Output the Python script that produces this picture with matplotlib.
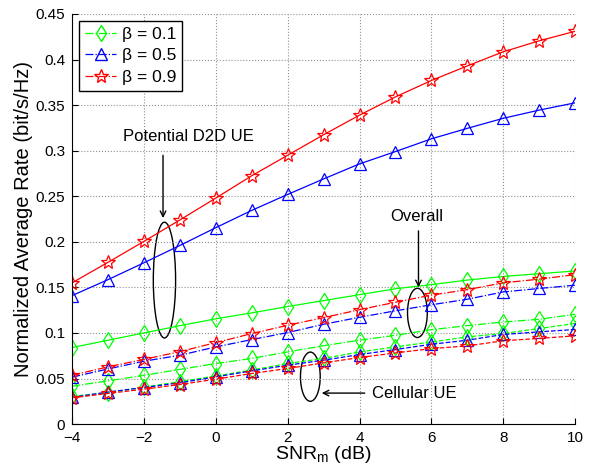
import numpy as np
import matplotlib
matplotlib.use('Agg')
import matplotlib.pyplot as plt
from matplotlib.patches import Ellipse
from matplotlib.lines import Line2D

plt.rcParams['font.family'] = ['Liberation Sans', 'DejaVu Sans']

# SNR_m axis (dB)
snr = np.arange(-4, 11)

# potential D2D UE (solid)
d2d_b01 = [0.084, 0.092, 0.100, 0.108, 0.1155, 0.122, 0.129, 0.1355, 0.142, 0.1485, 0.153, 0.158, 0.162, 0.165, 0.168]
d2d_b05 = [0.141, 0.1585, 0.177, 0.196, 0.2155, 0.2345, 0.252, 0.269, 0.2855, 0.299, 0.313, 0.3245, 0.3355, 0.3445, 0.3525]
d2d_b09 = [0.155, 0.1775, 0.2005, 0.224, 0.248, 0.2725, 0.295, 0.3175, 0.339, 0.359, 0.377, 0.393, 0.4085, 0.4205, 0.431]

# overall (dash-dot)
all_b01 = [0.0416, 0.0474, 0.0535, 0.060, 0.0664, 0.072, 0.0792, 0.086, 0.092, 0.0974, 0.1036, 0.108, 0.112, 0.115, 0.1205]
all_b05 = [0.0515, 0.0605, 0.069, 0.0755, 0.0847, 0.0927, 0.1004, 0.1095, 0.1172, 0.1243, 0.1309, 0.137, 0.145, 0.1488, 0.1524]
all_b09 = [0.0536, 0.0628, 0.071, 0.0795, 0.0894, 0.0993, 0.1084, 0.1168, 0.1255, 0.1337, 0.1415, 0.1475, 0.155, 0.159, 0.164]

# cellular UE (dashed)
cell_b01 = [0.0305, 0.0345, 0.0405, 0.0465, 0.0528, 0.0592, 0.0665, 0.072, 0.0792, 0.0847, 0.0901, 0.0957, 0.0994, 0.1049, 0.1104]
cell_b05 = [0.0292, 0.0352, 0.0401, 0.0453, 0.0518, 0.0584, 0.0646, 0.0701, 0.0763, 0.0818, 0.0876, 0.092, 0.0983, 0.1012, 0.1038]
cell_b09 = [0.0288, 0.0336, 0.0383, 0.0434, 0.0493, 0.0555, 0.061, 0.0672, 0.073, 0.0781, 0.0828, 0.0858, 0.0914, 0.094, 0.0968]

betas = ['0.1', '0.5', '0.9']
colors = ['#00ff00', '#0000ff', '#ff0000']
markers = ['d', '^', '*']
msizes = [8, 8, 10]

fig = plt.figure(figsize=(5.96, 4.65), dpi=100)
ax = fig.add_axes([0.121, 0.088, 0.844, 0.882])

groups = [(d2d_b01, all_b01, cell_b01), (d2d_b05, all_b05, cell_b05), (d2d_b09, all_b09, cell_b09)]
for k, (d2d, tot, cell) in enumerate(groups):
    for ys, ls in ((d2d, '-'), (tot, '-.'), (cell, '--')):
        ax.plot(snr, ys, linestyle=ls, color=colors[k], marker=markers[k], ms=msizes[k],
                mfc='none', mec=colors[k], lw=0.9, mew=0.9)

ax.set_xlim(-4, 10)
ax.set_ylim(0, 0.45)
ax.set_xticks(np.arange(-4, 11, 2))
ax.set_yticks(np.arange(0, 0.451, 0.05))
ax.set_yticklabels(['0', '0.05', '0.1', '0.15', '0.2', '0.25', '0.3', '0.35', '0.4', '0.45'])
ax.grid(True, linestyle=':', color='#909090', lw=0.8)
ax.tick_params(direction='in', labelsize=11, length=4)
ax.tick_params(axis='x', pad=5)
ax.tick_params(axis='y', pad=5)
for s in ('top', 'right'):
    ax.spines[s].set_visible(False)
ax.set_xlabel('SNR$_\\mathregular{m}$ (dB)', fontsize=14, labelpad=-1)
ax.set_ylabel('Normalized Average Rate (bit/s/Hz)', fontsize=14.5, labelpad=2)

handles = [Line2D([], [], linestyle='-.', color=colors[k], marker=markers[k], ms=msizes[k],
                  mfc='none', mec=colors[k], lw=0.9) for k in range(3)]
ax.legend(handles, ['\u03b2 = ' + b for b in betas], loc='upper left', fontsize=12.5,
          fancybox=False, edgecolor='black', framealpha=1, handlelength=1.8,
          borderaxespad=0.4, labelspacing=0.35, handletextpad=0.3, borderpad=0.35)

# annotations
ax.add_patch(Ellipse((-1.43, 0.158), 0.62, 0.127, fill=False, ec='black', lw=1))
ax.annotate('', xy=(-1.47, 0.223), xytext=(-1.47, 0.298),
            arrowprops=dict(arrowstyle='->', color='black', lw=1))
ax.text(-0.75, 0.316, 'Potential D2D UE', ha='center', va='center', fontsize=12)

ax.add_patch(Ellipse((5.61, 0.122), 0.55, 0.054, fill=False, ec='black', lw=1))
ax.annotate('', xy=(5.64, 0.147), xytext=(5.64, 0.215),
            arrowprops=dict(arrowstyle='->', color='black', lw=1))
ax.text(5.58, 0.228, 'Overall', ha='center', va='center', fontsize=12)

ax.add_patch(Ellipse((2.63, 0.052), 0.55, 0.054, fill=False, ec='black', lw=1))
ax.annotate('', xy=(2.87, 0.034), xytext=(4.22, 0.034),
            arrowprops=dict(arrowstyle='->', color='black', lw=1))
ax.text(4.35, 0.034, 'Cellular UE', ha='left', va='center', fontsize=12)

fig.savefig('out.png', dpi=100)
